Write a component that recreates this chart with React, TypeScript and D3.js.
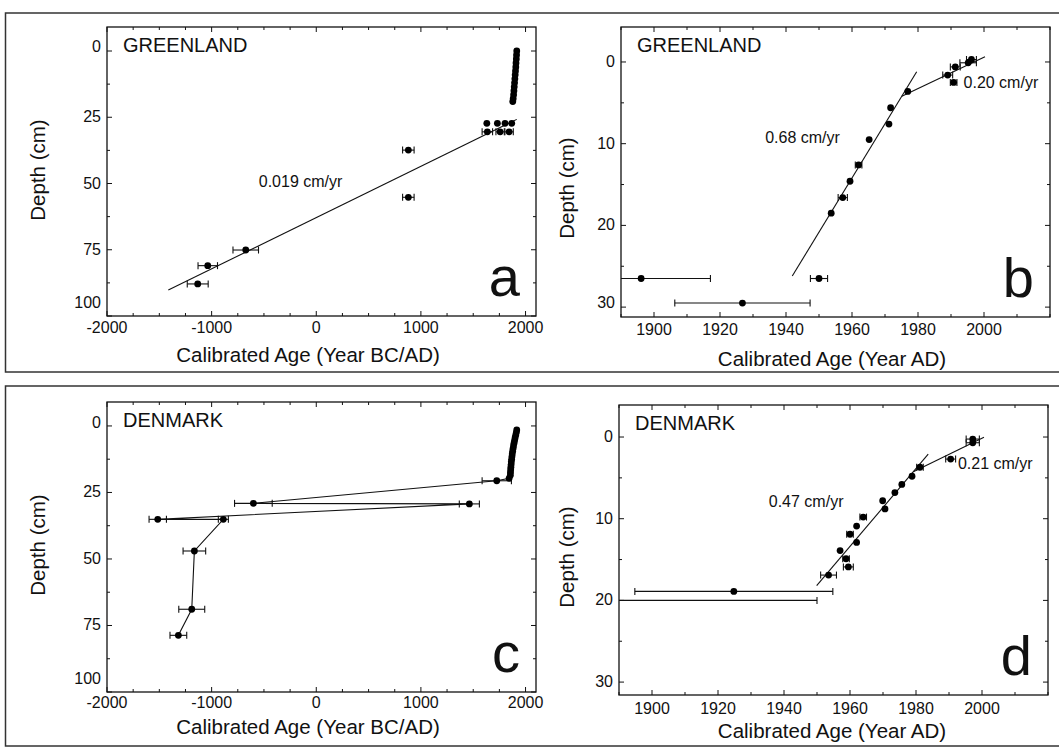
import * as d3 from "d3";

type Pt = [number, number, number]; // year, depth (cm), ± age error (yr)

const FONT = "'Liberation Sans', Arial, Helvetica, sans-serif";

// ---- panel a: Greenland, whole core ----
const greenlandCorePts: Pt[] = [
  [1916, 0, 0], [1914, 1.5, 0], [1912, 3, 0], [1909, 4.5, 0], [1907, 6, 0],
  [1904, 7.5, 0], [1901, 9, 0], [1898, 10.5, 0], [1895, 12, 0], [1892, 13.5, 0],
  [1889, 15, 0], [1886, 16.5, 0], [1882, 18, 0], [1878, 19.1, 0],
  [1630, 27.3, 0], [1731, 27.3, 0], [1804, 27.3, 0], [1868, 27.3, 0],
  [1635, 30.5, 50], [1757, 30.5, 40], [1843, 30.5, 40],
  [880, 37.4, 55], [880, 55.2, 55],
  [-674, 75.1, 122], [-1037, 81.0, 93], [-1133, 87.9, 100],
];
const greenlandCoreFit: [number, number][] = [[-1414, 90.2], [1916, 25.8]];

// ---- panel b: Greenland, top 30 cm ----
const greenlandTopPts: Pt[] = [
  [1896.1, 26.5, 21], [1926.8, 29.5, 20.5], [1950, 26.5, 2.6],
  [1953.7, 18.5, 0], [1957.2, 16.6, 1.4], [1959.4, 14.6, 0], [1962.0, 12.6, 1],
  [1965.2, 9.5, 0], [1971.2, 7.6, 0], [1971.7, 5.6, 0], [1976.9, 3.6, 0],
  [1989.0, 1.6, 1.5], [1991.3, 0.6, 1.5], [1990.8, 2.5, 1], [1995.2, 0.1, 2.5], [1996.2, -0.3, 1.5],
];
const greenlandTopFitLower: [number, number][] = [[1941.9, 26.2], [1979.6, 1.2]];
const greenlandTopFitUpper: [number, number][] = [[1975.1, 4.2], [2000.3, -0.65]];

// ---- panel c: Denmark, whole core (points joined in depth order) ----
const denmarkCorePts: Pt[] = [
  [1916, 1.5, 0], [1912, 2.5, 0], [1906, 3.5, 0], [1900, 4.5, 0], [1895, 5.5, 0],
  [1890, 6.5, 0], [1885, 7.5, 0], [1881, 8.5, 0], [1877, 9.5, 0], [1873, 10.5, 0],
  [1870, 11.5, 0], [1867, 12.5, 0], [1864, 13.5, 0], [1862, 14.5, 0], [1860, 15.5, 0],
  [1858, 16.5, 0], [1856, 17.5, 0], [1855, 18.5, 0], [1843, 19.7, 0],
  [1725, 20.6, 140], [-601, 29.1, 180], [1463, 29.3, 96],
  [-1515, 35.1, 83], [-888, 35.1, 48], [-1165, 47.0, 108],
  [-1190, 68.9, 124], [-1318, 78.7, 80],
];

// ---- panel d: Denmark, top 30 cm ----
const denmarkTopPts: Pt[] = [
  [1997.2, 0.25, 2], [1997.2, 0.7, 2], [1990.5, 2.7, 1.5], [1981.2, 3.7, 1], [1978.8, 4.8, 0],
  [1975.7, 5.8, 0], [1973.6, 6.8, 0], [1969.9, 7.8, 0], [1970.6, 8.8, 0], [1964.0, 9.8, 1],
  [1962.0, 10.9, 0], [1960.0, 11.9, 1], [1962.0, 12.9, 0], [1957.0, 13.9, 0], [1958.8, 14.9, 1],
  [1959.5, 15.9, 1.5], [1953.5, 16.9, 2.4], [1924.8, 18.9, 30], [1880, 20, 70],
];
const denmarkTopFitLower: [number, number][] = [[1949.9, 18.2], [1983.7, 2.1]];
const denmarkTopFitUpper: [number, number][] = [[1979.2, 4.25], [2000.6, 0.04]];

// tick values
const longTicks = [-2000, -1000, 0, 1000, 2000];
const longDepthTicks = [0, 25, 50, 75, 100];
const shortTicks = [1900, 1920, 1940, 1960, 1980, 2000];
const shortDepthTicks = [0, 10, 20, 30];

type Note = { text: string; at: [number, number]; anchor: string };

interface PanelDef {
  id: string;
  region: string;
  letter: string;
  xTitle: string;
  left: number; right: number; top: number; bottom: number;
  xDomain: [number, number];
  yDomain: [number, number];
  xTicks: number[]; xMinor: number;
  yTicks: number[]; yMinor: number;
  pts: Pt[];
  fits: [number, number][][];
  joined: boolean;
  notes: Note[];
  firstLift: number;
  lastLift: number;
  yTitleX: number; yTitleY: number;
  xTitleX: number; xTitleY: number;
  xLabelDy: number;
}

const panels: PanelDef[] = [
  {
    id: "a", region: "GREENLAND", letter: "a", xTitle: "Calibrated Age (Year BC/AD)",
    left: 107, right: 536, top: 27, bottom: 316,
    xDomain: [-2000, 2100], yDomain: [-9.06, 100],
    xTicks: longTicks, xMinor: 250, yTicks: longDepthTicks, yMinor: 12.5,
    pts: greenlandCorePts, fits: [greenlandCoreFit], joined: false,
    notes: [{ text: "0.019 cm/yr", at: [-150, 51.5], anchor: "middle" }],
    firstLift: 4, lastLift: 13, yTitleX: 45, yTitleY: 170, xTitleX: 308, xTitleY: 362, xLabelDy: 17,
  },
  {
    id: "b", region: "GREENLAND", letter: "b", xTitle: "Calibrated Age (Year AD)",
    left: 621, right: 1050, top: 27, bottom: 317,
    xDomain: [1890, 2020], yDomain: [-4.28, 31.21],
    xTicks: shortTicks, xMinor: 10, yTicks: shortDepthTicks, yMinor: 5,
    pts: greenlandTopPts, fits: [greenlandTopFitLower, greenlandTopFitUpper], joined: false,
    notes: [
      { text: "0.68 cm/yr", at: [1945, 9.9], anchor: "middle" },
      { text: "0.20 cm/yr", at: [1993.8, 3.2], anchor: "start" },
    ],
    firstLift: 0, lastLift: 4, yTitleX: 574, yTitleY: 188, xTitleX: 832, xTitleY: 366, xLabelDy: 18,
  },
  {
    id: "c", region: "DENMARK", letter: "c", xTitle: "Calibrated Age (Year BC/AD)",
    left: 107, right: 536, top: 402, bottom: 692,
    xDomain: [-2000, 2100], yDomain: [-9.0, 100],
    xTicks: longTicks, xMinor: 250, yTicks: longDepthTicks, yMinor: 12.5,
    pts: denmarkCorePts, fits: [], joined: true,
    notes: [],
    firstLift: 3, lastLift: 13, yTitleX: 45, yTitleY: 545, xTitleX: 308, xTitleY: 734, xLabelDy: 16,
  },
  {
    id: "d", region: "DENMARK", letter: "d", xTitle: "Calibrated Age (Year AD)",
    left: 619, right: 1048, top: 405, bottom: 695,
    xDomain: [1890, 2020], yDomain: [-3.92, 31.58],
    xTicks: shortTicks, xMinor: 10, yTicks: shortDepthTicks, yMinor: 5,
    pts: denmarkTopPts, fits: [denmarkTopFitLower, denmarkTopFitUpper], joined: false,
    notes: [
      { text: "0.47 cm/yr", at: [1946.7, 8.6], anchor: "middle" },
      { text: "0.21 cm/yr", at: [1992.7, 3.9], anchor: "start" },
    ],
    firstLift: 0, lastLift: 0, yTitleX: 574, yTitleY: 557, xTitleX: 832, xTitleY: 738, xLabelDy: 19,
  },
];

function Panel({ p }: { p: PanelDef }) {
  const x = d3.scaleLinear().domain(p.xDomain).range([p.left, p.right]);
  const y = d3.scaleLinear().domain(p.yDomain).range([p.top, p.bottom]);
  const line = d3.line<[number, number]>().x((d) => x(d[0])).y((d) => y(d[1]));
  const clip = `clip-${p.id}`;

  const xMinor = d3.range(Math.ceil(p.xDomain[0] / p.xMinor) * p.xMinor, p.xDomain[1] + 1e-6, p.xMinor);
  const yMinor = d3.range(0, p.yDomain[1] + 1e-6, p.yMinor);
  const isMajorX = (v: number) => p.xTicks.includes(v);
  const isMajorY = (v: number) => p.yTicks.includes(v);
  const lift = (i: number) =>
    i === 0 ? p.firstLift : i === p.yTicks.length - 1 ? p.lastLift : 0;

  return (
    <g>
      <defs>
        <clipPath id={clip}>
          <rect x={p.left} y={p.top} width={p.right - p.left} height={p.bottom - p.top} />
        </clipPath>
      </defs>

      {/* ticks, all four sides, inward */}
      <g stroke="#111" strokeWidth={1}>
        {xMinor.map((v) => {
          const len = isMajorX(v) ? 5 : 3;
          return (
            <g key={`x${v}`}>
              <line x1={x(v)} x2={x(v)} y1={p.bottom} y2={p.bottom - len} />
              <line x1={x(v)} x2={x(v)} y1={p.top} y2={p.top + len} />
            </g>
          );
        })}
        {yMinor.map((v) => {
          const len = isMajorY(v) ? 5 : 3;
          return (
            <g key={`y${v}`}>
              <line x1={p.left} x2={p.left + len} y1={y(v)} y2={y(v)} />
              <line x1={p.right} x2={p.right - len} y1={y(v)} y2={y(v)} />
            </g>
          );
        })}
      </g>

      <rect x={p.left} y={p.top} width={p.right - p.left} height={p.bottom - p.top}
        fill="none" stroke="#111" strokeWidth={1.3} />

      {/* tick labels */}
      <g fontFamily={FONT} fontSize={16} fill="#111">
        {p.xTicks.map((v) => (
          <text key={`xl${v}`} x={x(v)} y={p.bottom + p.xLabelDy} textAnchor="middle">{v}</text>
        ))}
        {p.yTicks.map((v, i) => (
          <text key={`yl${v}`} x={p.left - 6} y={y(v) + 5 - lift(i)} textAnchor="end">{v}</text>
        ))}
      </g>

      {/* axis titles */}
      <text x={p.xTitleX} y={p.xTitleY} textAnchor="middle" fontFamily={FONT} fontSize={20.5} fill="#111">
        {p.xTitle}
      </text>
      <text transform={`translate(${p.yTitleX},${p.yTitleY}) rotate(-90)`} textAnchor="middle"
        fontFamily={FONT} fontSize={20.5} fill="#111">Depth (cm)</text>

      {/* data */}
      <g clipPath={`url(#${clip})`}>
        {p.fits.map((f, i) => (
          <path key={`f${i}`} d={line(f) ?? ""} fill="none" stroke="#111" strokeWidth={1.1} />
        ))}
        {p.joined && (
          <path d={line(p.pts.map((d) => [d[0], d[1]] as [number, number])) ?? ""}
            fill="none" stroke="#111" strokeWidth={1.1} />
        )}
        {p.pts.map((d, i) => (
          d[2] > 0 ? (
            <g key={`e${i}`} stroke="#111" strokeWidth={1.1}>
              <line x1={x(d[0] - d[2])} x2={x(d[0] + d[2])} y1={y(d[1])} y2={y(d[1])} />
              <line x1={x(d[0] - d[2])} x2={x(d[0] - d[2])} y1={y(d[1]) - 3.5} y2={y(d[1]) + 3.5} />
              <line x1={x(d[0] + d[2])} x2={x(d[0] + d[2])} y1={y(d[1]) - 3.5} y2={y(d[1]) + 3.5} />
            </g>
          ) : null
        ))}
        {p.pts.map((d, i) => (
          <circle key={`p${i}`} cx={x(d[0])} cy={y(d[1])} r={3.4} fill="#000" />
        ))}
      </g>

      {/* annotations */}
      <g fontFamily={FONT} fill="#111">
        <text x={p.left + 16} y={p.top + 25} fontSize={20}>{p.region}</text>
        {p.notes.map((n, i) => (
          <text key={`n${i}`} x={x(n.at[0])} y={y(n.at[1])} fontSize={16} textAnchor={n.anchor}>{n.text}</text>
        ))}
        <text x={p.right - 16} y={p.bottom - 20} fontSize={56} textAnchor="end">{p.letter}</text>
      </g>
    </g>
  );
}

export default function App() {
  return (
    <svg width={1059} height={749} style={{ position: "absolute", left: 0, top: 0, background: "#fff" }}>
      <rect x={0} y={0} width={1059} height={749} fill="#fff" />
      <rect x={5.5} y={13} width={1060} height={359} fill="none" stroke="#333" strokeWidth={1.5} />
      <rect x={5.5} y={386} width={1060} height={360} fill="none" stroke="#333" strokeWidth={1.5} />
      {panels.map((p) => <Panel key={p.id} p={p} />)}
    </svg>
  );
}
